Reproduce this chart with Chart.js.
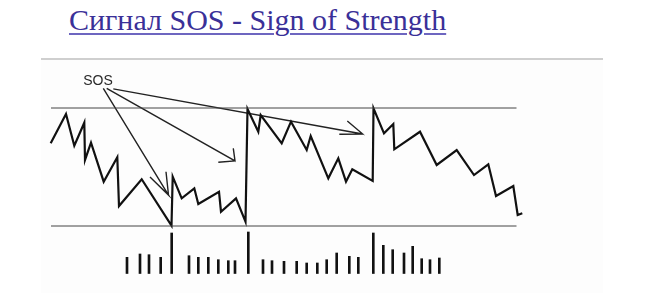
<!DOCTYPE html>
<html>
<head>
<meta charset="utf-8">
<script src="https://cdn.jsdelivr.net/npm/chart.js@4"></script>
<style>
    body { margin: 0; width: 668px; height: 293px; background: #fff; overflow: hidden; position: relative; }
    .title {
        position: absolute; left: 69px; top: 5px;
        font-family: "Liberation Serif", "Times New Roman", serif;
        font-size: 30px; line-height: 30px; color: #3a3098;
        text-decoration: underline; text-decoration-color: #6d66c0;
        text-decoration-thickness: 2px; text-underline-offset: 3px;
        white-space: nowrap;
    }
    .frame {
        position: absolute; left: 41px; top: 58px; width: 562px; height: 233px;
        border-top: 2px solid #cfcfcf; background: #fdfdfd;
    }
    .frame canvas { display: block; }
</style>
</head>
<body>
<div class="title">Сигнал SOS - Sign of Strength</div>
<div class="frame"><canvas id="sosChart" width="562" height="233"></canvas></div>
<script>
// Price path (time units, price units)
const priceTime = [0.14, 3.2, 4.86, 6.86, 7.0, 8.2, 10.74, 13.46, 13.8, 18.34, 24.3, 24.54, 26.34, 28.86, 29.66, 33.8, 34.2, 37.2, 39.1, 39.5,
    41.66, 42.14, 46.34, 48.2, 51.34, 52.14, 55.66, 57.66, 59.2, 60.46, 64.54, 64.7, 66.8, 68.66, 68.86, 74.0, 77.34, 81.34, 84.8, 87.66,
    89.2, 92.66, 93.54, 94.46];
const priceValue = [94.02, 98.98, 93.61, 97.51, 91.19, 94.12, 87.51, 91.64, 83.39, 87.92, 80.08, 88.36, 84.69, 86.39, 83.73, 85.81, 82.42, 84.69, 80.73, 99.83,
    95.98, 98.81, 94.02, 97.68, 92.88, 95.25, 88.08, 91.47, 87.51, 89.61, 87.63, 99.95, 95.71, 97.29, 93.0, 95.98, 90.34, 92.88, 88.64, 90.46,
    85.08, 86.78, 81.86, 82.15];

// Volume bars
const volumeTime = [15.4, 18.0, 19.8, 22.14, 24.34, 27.8, 29.66, 31.66, 33.66, 35.66, 37.0, 39.66, 42.6, 44.4, 46.8, 49.34, 51.34, 53.46, 55.34, 57.34,
    59.86, 61.66, 64.66, 66.66, 68.54, 70.8, 72.54, 74.34, 76.0, 77.86];
const volumeValue = [162, 195, 188, 162, 405, 178, 162, 162, 138, 128, 128, 415, 138, 128, 122, 122, 105, 105, 138, 205,
    172, 162, 405, 282, 238, 205, 272, 148, 138, 155];

// Trading range
const rangeStart = 0.2;
const rangeEnd = 93.3;
const resistance = 100;
const support = 80;

// SOS label and arrows: [start, tip, headA, tip, headB]
const sosLabel = { x: 9.6, y: 104.58, text: 'SOS' };
const arrow1 = [[10.66, 103.34], [23.7, 85.25], [20.0, 88.31], [23.7, 85.25], [23.2, 89.2]];
const arrow2 = [[11.34, 103.34], [37.0, 91.02], [36.66, 93.17], [37.0, 91.02], [33.66, 90.8]];
const arrow3 = [[12.66, 103.25], [62.54, 95.59], [59.46, 97.8], [62.54, 95.59], [57.86, 95.54]];

const toPoints = (xs, ys) => xs.map((x, i) => ({ x: x, y: ys[i] }));
const pairPoints = arr => arr.map(p => ({ x: p[0], y: p[1] }));

const lineStyle = (data, color, width) => ({
    type: 'line',
    data: data,
    borderColor: color,
    borderWidth: width,
    pointRadius: 0,
    tension: 0,
    fill: false,
    yAxisID: 'y'
});

const labelPlugin = {
    id: 'sosLabel',
    afterDatasetsDraw(chart) {
        const c = chart.ctx;
        const x = chart.scales.x.getPixelForValue(sosLabel.x);
        const y = chart.scales.y.getPixelForValue(sosLabel.y);
        c.save();
        c.fillStyle = '#2a2a2a';
        c.font = '14px "Liberation Sans", Arial, sans-serif';
        c.textAlign = 'center';
        c.textBaseline = 'middle';
        c.fillText(sosLabel.text, x, y);
        c.restore();
    }
};

new Chart(document.getElementById('sosChart'), {
    type: 'line',
    data: {
        datasets: [
            lineStyle([{ x: rangeStart, y: resistance }, { x: rangeEnd, y: resistance }], '#444', 1),
            lineStyle([{ x: rangeStart, y: support }, { x: rangeEnd, y: support }], '#444', 1),
            lineStyle(toPoints(priceTime, priceValue), '#111', 2.2),
            lineStyle(pairPoints(arrow1), '#222', 1.4),
            lineStyle(pairPoints(arrow2), '#222', 1.4),
            lineStyle(pairPoints(arrow3), '#222', 1.4),
            {
                type: 'bar',
                data: toPoints(volumeTime, volumeValue),
                backgroundColor: '#111',
                barThickness: 2,
                yAxisID: 'vol'
            }
        ]
    },
    options: {
        responsive: false,
        animation: false,
        layout: { padding: 0 },
        scales: {
            x: { type: 'linear', min: -1.8, max: 110.6, offset: false, display: false },
            y: { type: 'linear', min: 68.644, max: 108.136, display: false },
            vol: { type: 'linear', min: -195, max: 2135, display: false }
        },
        plugins: {
            legend: { display: false },
            tooltip: { enabled: false }
        }
    },
    plugins: [labelPlugin]
});
</script>
</body>
</html>
